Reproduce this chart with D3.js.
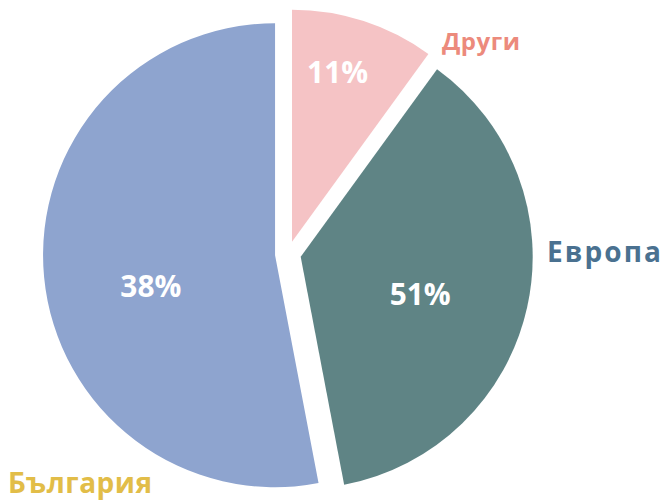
<!DOCTYPE html>
<html>
<head>
<meta charset="utf-8">
<script src="https://cdn.jsdelivr.net/npm/d3@7"></script>
<style>
  body { margin: 0; background: #fff; }
  text { font-family: "Open Sans", Lato, sans-serif; font-weight: 700; }
</style>
</head>
<body>
<div id="container"></div>
<script>
/* DATA */
// slice order runs clockwise from 12 o'clock
const regions = ["Други", "Европа", "България"];
// slice sizes (percent of the circle)
const shares = [10, 37, 53];
// percentages as printed on the slices
const printedLabels = ["11%", "51%", "38%"];

/* CONSTANTS */
const width = 663,
  height = 503,
  center = { x: 288, y: 254 },
  radius = 232,
  explode = 13;

const sliceColors = ["#f5c3c5", "#5f8485", "#8ea4cf"];
const nameColors = ["#ec8a7c", "#4a7190", "#e2bd48"];
// where the percent sits inside each slice: angle (deg, clockwise from top) and distance
const labelPolar = [
  { angle: 15, r: 176 },
  { angle: 107, r: 125 },
  { angle: 256, r: 128 }
];
const nameStyle = [
  { x: 442, y: 50, size: 24, len: 78 },
  { x: 547, y: 262, size: 28, len: 114 },
  { x: 8, y: 493, size: 28, len: 144 }
];

const svg = d3.select("#container")
  .append("svg")
  .attr("width", width)
  .attr("height", height);

const pie = d3.pie().sort(null).value(d => d.share);
const arc = d3.arc().innerRadius(0).outerRadius(radius);

const data = regions.map((r, i) => ({ region: r, share: shares[i], label: printedLabels[i], i }));
const arcs = pie(data);

const g = svg.append("g")
  .attr("transform", `translate(${center.x}, ${center.y})`);

// each slice pushed out along its bisector
const offset = d => {
  const mid = (d.startAngle + d.endAngle) / 2;
  return [Math.sin(mid) * explode, -Math.cos(mid) * explode];
};

const slices = g.selectAll(".slice")
  .data(arcs)
  .join("g")
  .attr("class", "slice")
  .attr("transform", d => `translate(${offset(d)})`);

slices.append("path")
  .attr("d", arc)
  .attr("fill", d => sliceColors[d.data.i]);

// percent labels
slices.append("text")
  .attr("text-anchor", "middle")
  .attr("dy", "0.36em")
  .attr("transform", d => {
    const p = labelPolar[d.data.i];
    const a = p.angle * Math.PI / 180;
    return `translate(${Math.sin(a) * p.r}, ${-Math.cos(a) * p.r})`;
  })
  .attr("fill", "#fff")
  .attr("textLength", 61)
  .attr("lengthAdjust", "spacingAndGlyphs")
  .style("font-size", "31px")
  .text(d => d.data.label);

// region names
svg.selectAll(".name")
  .data(data)
  .join("text")
  .attr("class", "name")
  .attr("x", d => nameStyle[d.i].x)
  .attr("y", d => nameStyle[d.i].y)
  .attr("fill", d => nameColors[d.i])
  .attr("textLength", d => nameStyle[d.i].len)
  .attr("lengthAdjust", "spacing")
  .style("font-size", d => nameStyle[d.i].size + "px")
  .text(d => d.region);
</script>
</body>
</html>
